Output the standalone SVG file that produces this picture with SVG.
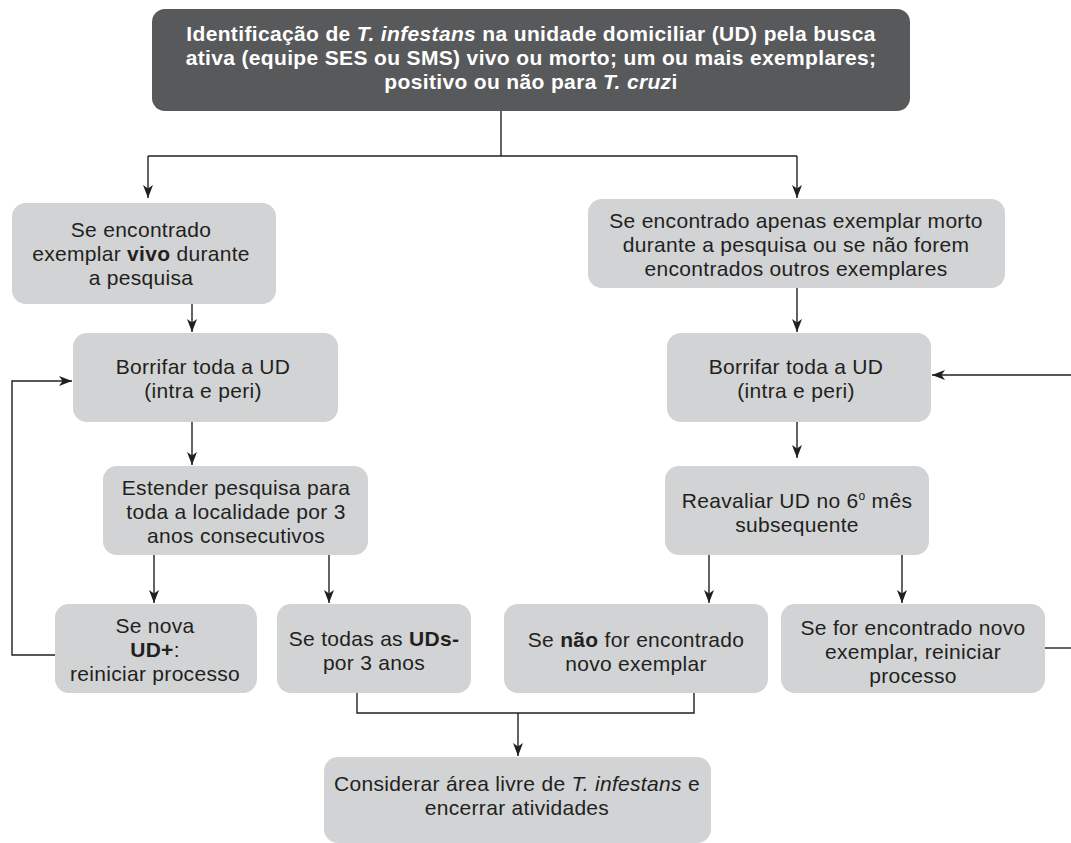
<svg xmlns="http://www.w3.org/2000/svg" width="1071" height="843" viewBox="0 0 1071 843">
<style>
.box{fill:#d1d3d4;}
.dark{fill:#58595b;}
.t{font-family:"Liberation Sans",Arial,sans-serif;font-size:21px;letter-spacing:0.3px;fill:#231f20;text-anchor:middle;}
.tw{font-family:"Liberation Sans",Arial,sans-serif;font-size:21px;letter-spacing:0.35px;font-weight:bold;fill:#ffffff;text-anchor:middle;}
.b{font-weight:bold;}
.i{font-style:italic;}
.c{fill:none;stroke:#231f20;stroke-width:1.4;}
</style>
<defs>
<marker id="ah" markerUnits="userSpaceOnUse" markerWidth="14" markerHeight="11" refX="13" refY="5" orient="auto" viewBox="0 0 14 10">
<path d="M0,0 L13,5 L0,10 L3.5,5 Z" fill="#231f20"/>
</marker>
</defs>
<rect width="1071" height="843" fill="#ffffff"/>

<g id="connectors">
<path class="c" d="M501,111 V156"/>
<path class="c" d="M148,156 H797"/>
<path class="c" d="M148,156 V198" marker-end="url(#ah)"/>
<path class="c" d="M797,156 V198" marker-end="url(#ah)"/>
<path class="c" d="M192,304 V332" marker-end="url(#ah)"/>
<path class="c" d="M192,422 V465" marker-end="url(#ah)"/>
<path class="c" d="M154,555 V603" marker-end="url(#ah)"/>
<path class="c" d="M329,555 V603" marker-end="url(#ah)"/>
<path class="c" d="M55,655 H12 V381 H72" marker-end="url(#ah)"/>
<path class="c" d="M357,693 V713 H694 V693"/>
<path class="c" d="M518,713 V756" marker-end="url(#ah)"/>
<path class="c" d="M797,288 V332" marker-end="url(#ah)"/>
<path class="c" d="M797,422 V458" marker-end="url(#ah)"/>
<path class="c" d="M709,555 V603" marker-end="url(#ah)"/>
<path class="c" d="M902,555 V603" marker-end="url(#ah)"/>
<path class="c" d="M1045,648 H1071"/>
<path class="c" d="M1071,375 H932" marker-end="url(#ah)"/>
</g>

<g id="n-top">
<rect class="dark" x="152" y="9" width="758" height="102" rx="13"/>
<text class="tw" x="531" y="41"><tspan>Identificação de </tspan><tspan class="i">T. infestans</tspan><tspan> na unidade domiciliar (UD) pela busca</tspan></text>
<text class="tw" x="531" y="65">ativa (equipe SES ou SMS) vivo ou morto; um ou mais exemplares;</text>
<text class="tw" x="531" y="89"><tspan>positivo ou não para </tspan><tspan class="i">T. cruz</tspan><tspan>i</tspan></text>
</g>

<g id="n-vivo">
<rect class="box" x="12" y="203" width="264" height="101" rx="14"/>
<text class="t" x="141" y="237">Se encontrado</text>
<text class="t" x="141" y="261"><tspan>exemplar </tspan><tspan class="b">vivo</tspan><tspan> durante</tspan></text>
<text class="t" x="141" y="285">a pesquisa</text>
</g>

<g id="n-borrifar-l">
<rect class="box" x="73" y="333" width="265" height="89" rx="14"/>
<text class="t" x="203" y="374">Borrifar toda a UD</text>
<text class="t" x="203" y="398">(intra e peri)</text>
</g>

<g id="n-estender">
<rect class="box" x="103" y="466" width="265" height="89" rx="14"/>
<text class="t" x="236" y="495">Estender pesquisa para</text>
<text class="t" x="236" y="519">toda a localidade por 3</text>
<text class="t" x="236" y="543">anos consecutivos</text>
</g>

<g id="n-nova">
<rect class="box" x="55" y="604" width="202" height="89" rx="14"/>
<text class="t" x="155" y="633">Se nova</text>
<text class="t" x="155" y="657"><tspan class="b">UD+</tspan><tspan>:</tspan></text>
<text class="t" x="155" y="681">reiniciar processo</text>
</g>

<g id="n-todas">
<rect class="box" x="277" y="604" width="194" height="89" rx="14"/>
<text class="t" x="374" y="646"><tspan>Se todas as </tspan><tspan class="b">UDs-</tspan></text>
<text class="t" x="374" y="670">por 3 anos</text>
</g>

<g id="n-morto">
<rect class="box" x="588" y="199" width="417" height="89" rx="14"/>
<text class="t" x="796" y="228">Se encontrado apenas exemplar morto</text>
<text class="t" x="796" y="252">durante a pesquisa ou se não forem</text>
<text class="t" x="796" y="276">encontrados outros exemplares</text>
</g>

<g id="n-borrifar-r">
<rect class="box" x="667" y="333" width="264" height="89" rx="14"/>
<text class="t" x="796" y="374">Borrifar toda a UD</text>
<text class="t" x="796" y="398">(intra e peri)</text>
</g>

<g id="n-reavaliar">
<rect class="box" x="665" y="466" width="264" height="89" rx="14"/>
<text class="t" x="797" y="508"><tspan>Reavaliar UD no 6</tspan><tspan font-size="12" dy="-8">o</tspan><tspan dy="8"> mês</tspan></text>
<text class="t" x="797" y="532">subsequente</text>
</g>

<g id="n-nao">
<rect class="box" x="504" y="604" width="264" height="89" rx="14"/>
<text class="t" x="636" y="647"><tspan>Se </tspan><tspan class="b">não</tspan><tspan> for encontrado</tspan></text>
<text class="t" x="636" y="671">novo exemplar</text>
</g>

<g id="n-for">
<rect class="box" x="781" y="604" width="264" height="89" rx="14"/>
<text class="t" x="913" y="635">Se for encontrado novo</text>
<text class="t" x="913" y="659">exemplar, reiniciar</text>
<text class="t" x="913" y="683">processo</text>
</g>

<g id="n-livre">
<rect class="box" x="324" y="757" width="387" height="86" rx="14"/>
<text class="t" x="517" y="791"><tspan>Considerar área livre de </tspan><tspan class="i">T. infestans</tspan><tspan> e</tspan></text>
<text class="t" x="517" y="815">encerrar atividades</text>
</g>
</svg>
